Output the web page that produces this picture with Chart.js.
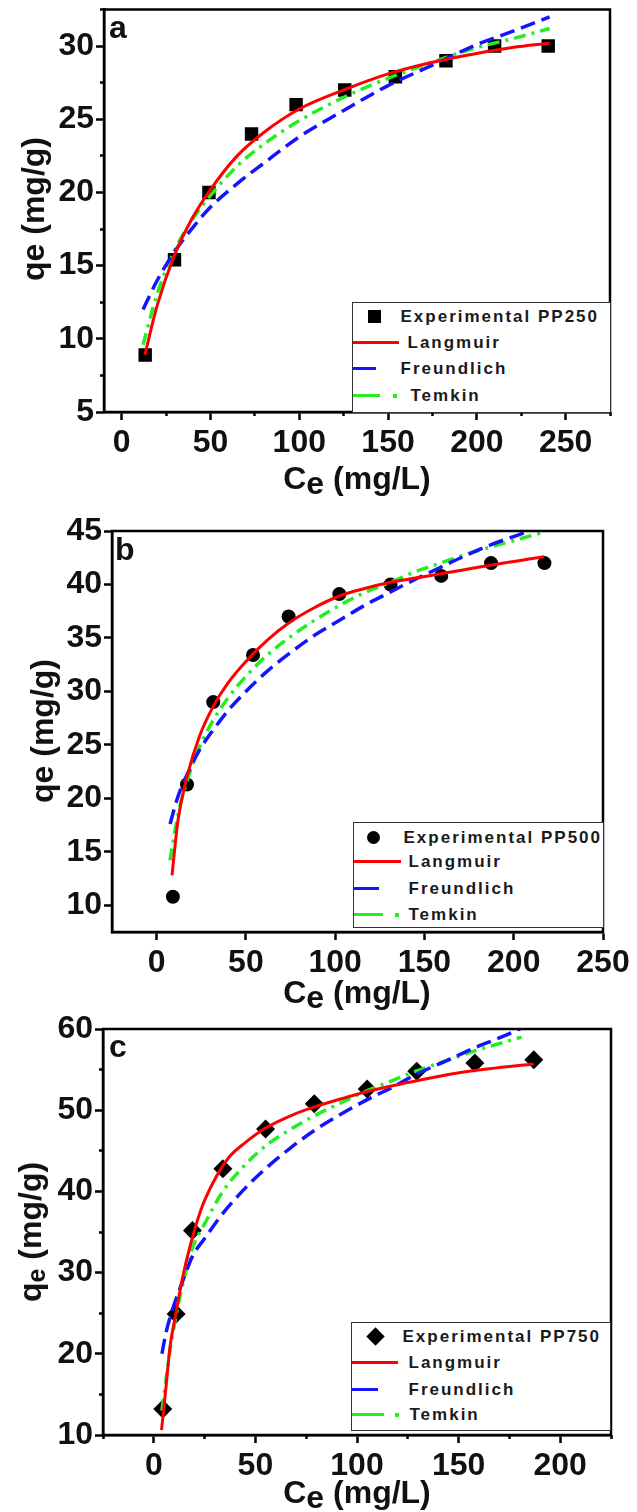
<!DOCTYPE html>
<html>
<head>
<meta charset="utf-8">
<script src="https://cdn.jsdelivr.net/npm/chart.js@4.4.1/dist/chart.umd.min.js"></script>
<style>
  html, body { margin: 0; padding: 0; background: #fff; }
  body { width: 637px; height: 1512px; position: relative; overflow: hidden;
         font-family: "Liberation Sans", Arial, sans-serif; }
  canvas { position: absolute; left: 0; }
  .t { position: absolute; font-weight: bold; color: #111; white-space: nowrap; }
  .leg { position: absolute; background: #fff; border: 1.5px solid #333; box-sizing: border-box; }
  .leg span { position: absolute; display: block; }
  .leg .lt { font-weight: bold; font-size: 17px; line-height: 18px; letter-spacing: 2px; color: #1a1a1a; white-space: nowrap; }
</style>
</head>
<body>
<canvas id="ca" width="637" height="500" style="top:0px"></canvas>
<canvas id="cb" width="637" height="512" style="top:500px"></canvas>
<canvas id="cc" width="637" height="512" style="top:1000px"></canvas>
<script>
// ---------- Panel (a): PP250 ----------
const ceA = [13.2, 29.7, 49.1, 73.1, 98.2, 125.6, 154.1, 182.6, 210.0, 240.2];
const qeA = [8.9, 15.4, 20.0, 24.0, 26.0, 27.0, 27.9, 29.0, 30.0, 30.0];
const langCeA = [13, 20, 30, 40, 50, 65, 80, 100, 125, 150, 175, 200, 220, 241];
const langQeA = [8.9, 12.3, 15.8, 18.3, 20.2, 22.5, 24.1, 25.7, 27.0, 28.1, 28.9, 29.5, 29.9, 30.2];
const fitCeA = [12, 20, 30, 40, 50, 65, 80, 100, 125, 150, 175, 200, 220, 241];
const freuQeA = [12.0, 14.0, 16.0, 17.6, 19.0, 20.6, 22.0, 23.8, 25.6, 27.3, 28.7, 30.1, 31.0, 32.0];
const temkQeA = [9.6, 13.1, 16.1, 18.2, 19.8, 21.8, 23.3, 24.9, 26.5, 27.8, 28.9, 29.9, 30.5, 31.2];

// ---------- Panel (b): PP500 ----------
const ceB = [9.1, 17.0, 31.7, 54.0, 73.9, 102.3, 131.0, 159.4, 187.3, 217.2];
const qeB = [10.8, 21.3, 29.0, 33.4, 37.0, 39.1, 40.0, 40.8, 42.0, 42.0];
const langCeB = [8.6, 12, 17, 24, 31.7, 40, 50, 62, 74, 88, 102, 116, 131, 145, 159, 173, 187, 202, 217];
const langQeB = [12.8, 18.0, 22.0, 25.8, 28.6, 30.8, 32.8, 34.8, 36.4, 37.8, 38.9, 39.6, 40.2, 40.6, 41.0, 41.4, 41.8, 42.2, 42.6];
const fitCeB = [7.5, 12, 17, 24, 31.7, 40, 50, 62, 74, 88, 102, 116, 131, 145, 159, 173, 187, 202, 217];
const freuQeB = [17.6, 20.2, 22.2, 24.5, 26.4, 28.2, 30.0, 31.9, 33.5, 35.2, 36.6, 38.0, 39.3, 40.5, 41.6, 42.7, 43.7, 44.6, 45.5];
const temkQeB = [14.2, 18.5, 21.6, 24.8, 27.3, 29.4, 31.4, 33.4, 35.0, 36.6, 38.0, 39.2, 40.2, 41.2, 42.0, 42.8, 43.5, 44.2, 44.9];

// ---------- Panel (c): PP750 ----------
const ceC = [4.4, 11.0, 19.0, 34.0, 55.0, 79.0, 105.0, 129.4, 158.0, 187.0];
const qeC = [13.2, 24.9, 35.2, 42.8, 47.7, 50.8, 52.6, 54.8, 55.8, 56.2];
const langCeC = [3.8, 6, 8, 10.6, 14, 18, 23, 29, 37, 45, 55, 69, 79, 95, 105, 125, 145, 165, 187];
const langQeC = [10.6, 15.9, 20.9, 24.6, 29.2, 33.4, 37.6, 41.0, 44.2, 46.0, 47.8, 49.5, 50.4, 51.6, 52.3, 53.4, 54.4, 55.1, 55.7];
const fitCeC = [4, 6, 8, 11, 14, 19, 25, 34, 45, 55, 67, 79, 92, 105, 118, 129, 145, 158, 170, 181];
const freuQeC = [20.0, 22.6, 24.5, 26.8, 28.8, 32.0, 34.2, 37.3, 40.4, 42.8, 45.3, 47.5, 49.5, 51.3, 52.9, 54.4, 56.2, 57.7, 58.9, 60.1];
const temkQeC = [13.0, 16.8, 20.4, 24.8, 28.3, 33.0, 36.0, 40.0, 43.3, 45.6, 47.6, 49.3, 50.9, 52.4, 53.7, 54.8, 56.2, 57.3, 58.2, 59.0];

// ---------- Series names ----------
const sampleNames = ['Experimental PP250', 'Experimental PP500', 'Experimental PP750'];
const modelNames = ['Langmuir', 'Freundlich', 'Temkin'];
const panelLetters = ['a', 'b', 'c'];

// ---------- Tick values ----------
const xMajorA = [0, 50, 100, 150, 200, 250];
const xMinorA = [25, 75, 125, 175, 225, 275];
const yMajorA = [5, 10, 15, 20, 25, 30];
const yMinorA = [7.5, 12.5, 17.5, 22.5, 27.5, 32.5];
const xMajorB = [0, 50, 100, 150, 200, 250];
const yMajorB = [10, 15, 20, 25, 30, 35, 40, 45];
const xMajorC = [0, 50, 100, 150, 200];
const xMinorC = [-25, 25, 75, 125, 175, 225];
const yMajorC = [10, 20, 30, 40, 50, 60];
const yMinorC = [15, 25, 35, 45, 55];

// ---------- Styling ----------
Chart.defaults.font.family = '"Liberation Sans", Arial, sans-serif';
const INK = '#111';
const lineStyles = [
  { color: '#ff0000', dash: [], width: 3 },
  { color: '#1414ff', dash: [15, 7], width: 3.5 },
  { color: '#22ee22', dash: [12, 6, 3, 6], width: 3.5 }
];
const tickFont = { size: 32, weight: 'bold' };

const pts = (xs, ys) => xs.map((x, i) => ({ x: x, y: ys[i] }));

// keep the plotting area exactly where the layout puts it
const noScalePadding = s => { s.paddingTop = 0; s.paddingBottom = 0; s.paddingLeft = 0; s.paddingRight = 0; };

// draws the closed box round the plotting area
const framePlugin = {
  id: 'frame',
  afterDraw(chart) {
    const { ctx, chartArea: a } = chart;
    ctx.save();
    ctx.strokeStyle = '#000';
    ctx.lineWidth = 2.5;
    ctx.strokeRect(a.left, a.top, a.right - a.left, a.bottom - a.top);
    ctx.restore();
  }
};

const panels = [
  {
    id: 'ca', top: 0, h: 500,
    area: { left: 104, top: 6, right: 610, bottom: 412 },
    x: [-10, 275], y: [5, 32.5],
    xMajor: xMajorA, xMinor: xMinorA, yMajor: yMajorA, yMinor: yMinorA,
    marker: { style: 'rect', radius: 9.5 },
    exp: [ceA, qeA], fits: [[langCeA, langQeA], [fitCeA, freuQeA], [fitCeA, temkQeA]],
    sample: sampleNames[0], letter: panelLetters[0],
    letterPos: [109, 38], xTitle: [357, 489], yTitle: [33, 209], subQ: false,
    leg: { x: 352, y: 302, w: 259, h: 111, rows: [15, 41, 67, 94], mx: 23, tx: [49, 56, 49, 59],
           lens: [46, 23, 27], dot: 43 }
  },
  {
    id: 'cb', top: 500, h: 512,
    area: { left: 112, top: 31, right: 603, bottom: 432 },
    x: [-25, 250], y: [7.5, 45],
    xMajor: xMajorB, xMinor: null, yMajor: yMajorB, yMinor: null,
    marker: { style: 'circle', radius: 7 },
    exp: [ceB, qeB], fits: [[langCeB, langQeB], [fitCeB, freuQeB], [fitCeB, temkQeB]],
    sample: sampleNames[1], letter: panelLetters[1],
    letterPos: [115, 560], xTitle: [357, 1003], yTitle: [42, 731], subQ: false,
    leg: { x: 353, y: 822, w: 251, h: 106, rows: [16, 40, 67, 93], mx: 21, tx: [51, 56, 56, 56],
           lens: [47, 25, 29], dot: 44 }
  },
  {
    id: 'cc', top: 1000, h: 512,
    area: { left: 103, top: 29, right: 611, bottom: 435 },
    x: [-25, 225], y: [10, 60],
    xMajor: xMajorC, xMinor: xMinorC, yMajor: yMajorC, yMinor: yMinorC,
    marker: { style: 'rectRot', radius: 9.5 },
    exp: [ceC, qeC], fits: [[langCeC, langQeC], [fitCeC, freuQeC], [fitCeC, temkQeC]],
    sample: sampleNames[2], letter: panelLetters[2],
    letterPos: [109, 1057], xTitle: [357, 1503], yTitle: [30, 1232], subQ: true,
    leg: { x: 351, y: 1322, w: 260, h: 109, rows: [15, 41, 68, 93], mx: 24.5, tx: [52, 58, 58, 59],
           lens: [46, 26, 32], dot: 46 }
  }
];

function makeChart(p) {
  const canvas = document.getElementById(p.id);
  const datasets = [
    {
      label: p.sample, data: pts(p.exp[0], p.exp[1]), order: 4,
      pointStyle: p.marker.style, pointRadius: p.marker.radius,
      backgroundColor: '#000', borderColor: '#000', borderWidth: 0, showLine: false
    }
  ];
  p.fits.forEach((f, i) => {
    datasets.push({
      label: modelNames[i], data: pts(f[0], f[1]), order: 1 + i,
      showLine: true, pointRadius: 0, fill: false,
      borderColor: lineStyles[i].color, borderWidth: lineStyles[i].width,
      borderDash: lineStyles[i].dash, cubicInterpolationMode: 'monotone'
    });
  });

  const majorGrid = { display: true, drawOnChartArea: false, drawTicks: true,
                      tickLength: 8, tickWidth: 2.5, tickColor: '#000' };
  const minorGrid = { display: true, drawOnChartArea: false, drawTicks: true,
                      tickLength: 4, tickWidth: 2.5, tickColor: '#000' };
  const border = { display: true, color: '#000', width: 2.5 };

  const scales = {
    x: {
      type: 'linear', position: 'bottom', min: p.x[0], max: p.x[1],
      afterBuildTicks: s => { s.ticks = p.xMajor.map(v => ({ value: v })); },
      afterFit: s => { s.height = p.h - p.area.bottom; noScalePadding(s); },
      ticks: { autoSkip: false, maxRotation: 0, padding: 4, color: INK, font: tickFont,
               callback: v => String(v) },
      grid: majorGrid, border: border
    },
    y: {
      type: 'linear', position: 'left', min: p.y[0], max: p.y[1],
      afterBuildTicks: s => { s.ticks = p.yMajor.map(v => ({ value: v })); },
      afterFit: s => { s.width = p.area.left; noScalePadding(s); },
      ticks: { autoSkip: false, padding: 2, color: INK, font: tickFont,
               callback: v => String(v) },
      grid: majorGrid, border: border
    }
  };
  if (p.xMinor) {
    scales.xm = {
      type: 'linear', axis: 'x', position: 'bottom', weight: -1, min: p.x[0], max: p.x[1],
      afterBuildTicks: s => { s.ticks = p.xMinor.map(v => ({ value: v })); },
      afterFit: s => { s.height = 0; noScalePadding(s); },
      ticks: { display: false }, grid: minorGrid, border: { display: false }
    };
  }
  if (p.yMinor) {
    scales.ym = {
      type: 'linear', axis: 'y', position: 'left', weight: -1, min: p.y[0], max: p.y[1],
      afterBuildTicks: s => { s.ticks = p.yMinor.map(v => ({ value: v })); },
      afterFit: s => { s.width = 0; noScalePadding(s); },
      ticks: { display: false }, grid: minorGrid, border: { display: false }
    };
  }

  new Chart(canvas, {
    type: 'scatter',
    data: { datasets: datasets },
    options: {
      responsive: false, animation: false, events: [], devicePixelRatio: 1,
      layout: { padding: { left: 0, top: p.area.top, right: 637 - p.area.right, bottom: 0 } },
      plugins: { legend: { display: false }, tooltip: { enabled: false }, title: { display: false } },
      scales: scales
    },
    plugins: [framePlugin]
  });
}

function addText(html, style) {
  const d = document.createElement('div');
  d.className = 't';
  d.innerHTML = html;
  Object.assign(d.style, style);
  document.body.appendChild(d);
  return d;
}

function addLabels(p) {
  // panel letter
  addText(p.letter, { fontSize: '32px', lineHeight: 'normal',
                      left: p.letterPos[0] + 'px', top: (p.letterPos[1] - 29) + 'px' });
  // x axis title
  addText('C<span style="position:relative;top:5px">e</span> (mg/L)',
          { fontSize: '32px', lineHeight: 'normal', left: p.xTitle[0] + 'px',
            top: (p.xTitle[1] - 29) + 'px', transform: 'translateX(-50%)' });
  // y axis title
  const q = p.subQ ? 'q<span style="font-size:78%;position:relative;top:4px">e</span> (mg/g)' : 'qe (mg/g)';
  addText(q, { fontSize: '32px', lineHeight: '1', left: p.yTitle[0] + 'px', top: p.yTitle[1] + 'px',
               transform: 'translate(-50%, -50%) rotate(-90deg)' });
}

function addLegend(p) {
  const L = p.leg;
  const box = document.createElement('div');
  box.className = 'leg';
  Object.assign(box.style, { left: L.x + 'px', top: L.y + 'px', width: L.w + 'px', height: L.h + 'px' });
  const off = 1.5;
  const span = (st) => { const s = document.createElement('span'); Object.assign(s.style, st); box.appendChild(s); return s; };
  const names = [p.sample].concat(modelNames);

  // marker row
  const cy0 = L.rows[0] - off, mx = L.mx - off;
  if (p.marker.style === 'rect') {
    span({ left: (mx - 6.5) + 'px', top: (cy0 - 6.5) + 'px', width: '13px', height: '13px', background: '#000' });
  } else if (p.marker.style === 'circle') {
    span({ left: (mx - 6.5) + 'px', top: (cy0 - 6.5) + 'px', width: '13px', height: '13px', background: '#000', borderRadius: '50%' });
  } else {
    span({ left: (mx - 6.5) + 'px', top: (cy0 - 6.5) + 'px', width: '13px', height: '13px', background: '#000', transform: 'rotate(45deg)' });
  }
  // line rows
  lineStyles.forEach((ls, i) => {
    const cy = L.rows[i + 1] - off;
    const hgt = ls.width;
    span({ left: '0px', top: (cy - hgt / 2) + 'px', width: L.lens[i] + 'px', height: hgt + 'px', background: ls.color });
    if (i === 2) {
      span({ left: (L.dot - off - 2) + 'px', top: (cy - 2) + 'px', width: '4px', height: '4px', background: ls.color });
    }
  });
  // texts
  names.forEach((n, i) => {
    const s = span({ left: (L.tx[i] - off) + 'px', top: (L.rows[i] - off - 9) + 'px' });
    s.className = 'lt';
    s.textContent = n;
  });
  document.body.appendChild(box);
}

panels.forEach(p => { makeChart(p); addLabels(p); addLegend(p); });
</script>
</body>
</html>
